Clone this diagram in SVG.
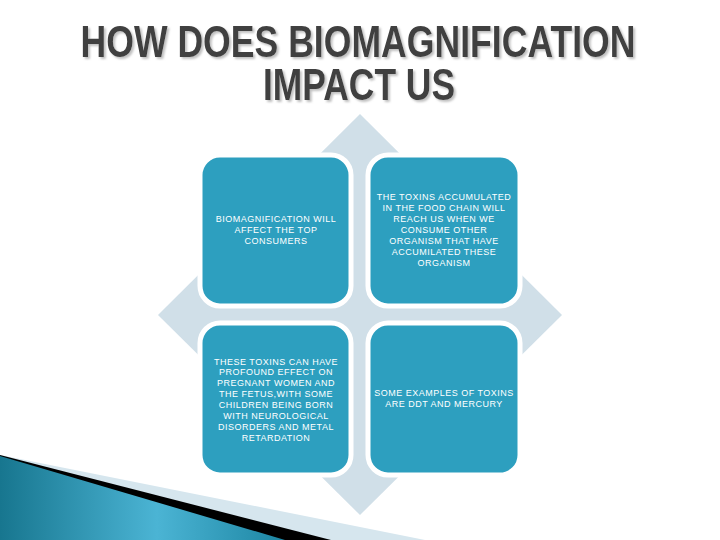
<svg xmlns="http://www.w3.org/2000/svg" width="720" height="540" viewBox="0 0 720 540">
  <defs>
    <style>
      .title { font-family: "Liberation Sans Narrow", "Liberation Sans", Arial, sans-serif; font-weight: bold; font-size: 44px; text-anchor: middle; fill: #3f3f3f; }
      .box { fill: #2d9fbf; stroke: #ffffff; stroke-width: 5; }
      .lbl { font-family: "Liberation Sans", Arial, sans-serif; font-size: 9px; fill: #ffffff; text-anchor: middle; letter-spacing: 0.5px; }
    </style>
    <filter id="shadow" filterUnits="userSpaceOnUse" x="0" y="0" width="720" height="130">
      <feDropShadow dx="2" dy="2" stdDeviation="0.8" flood-color="#b0b0b0" flood-opacity="0.8"/>
    </filter>
    <linearGradient id="swoosh" x1="0" y1="0" x2="1" y2="0">
      <stop offset="0" stop-color="#17768f"/>
      <stop offset="0.55" stop-color="#4bb4d4"/>
      <stop offset="1" stop-color="#1d86a3"/>
    </linearGradient>
  </defs>
  <rect width="720" height="540" fill="#ffffff"/>

  <g id="title" filter="url(#shadow)">
    <text class="title"><tspan x="358" y="57" textLength="555" lengthAdjust="spacingAndGlyphs">HOW DOES BIOMAGNIFICATION</tspan><tspan x="359" y="100" textLength="192" lengthAdjust="spacingAndGlyphs">IMPACT US</tspan></text>
  </g>

  <g id="connectors">
    <polygon points="360,114 562,315 360,515 158,315" fill="#d0dfe8"/>
  </g>

  <g id="node-top-left">
    <rect class="box" x="200" y="155" width="151" height="151" rx="20"/>
    <text class="lbl" x="276" y="222">BIOMAGNIFICATION WILL</text>
    <text class="lbl" x="276" y="233">AFFECT THE TOP</text>
    <text class="lbl" x="276" y="244">CONSUMERS</text>
  </g>

  <g id="node-top-right">
    <rect class="box" x="368" y="155" width="152" height="151" rx="20"/>
    <text class="lbl" x="444" y="199.5">THE TOXINS ACCUMULATED</text>
    <text class="lbl" x="444" y="210.6">IN THE FOOD CHAIN WILL</text>
    <text class="lbl" x="444" y="221.7">REACH US WHEN WE</text>
    <text class="lbl" x="444" y="232.8">CONSUME OTHER</text>
    <text class="lbl" x="444" y="243.9">ORGANISM THAT HAVE</text>
    <text class="lbl" x="444" y="255">ACCUMILATED THESE</text>
    <text class="lbl" x="444" y="266.1">ORGANISM</text>
  </g>

  <g id="node-bottom-left">
    <rect class="box" x="200" y="323" width="151" height="152" rx="20"/>
    <text class="lbl" x="276" y="364.5">THESE TOXINS CAN HAVE</text>
    <text class="lbl" x="276" y="375.4">PROFOUND EFFECT ON</text>
    <text class="lbl" x="276" y="386.3">PREGNANT WOMEN AND</text>
    <text class="lbl" x="276" y="397.2">THE FETUS,WITH SOME</text>
    <text class="lbl" x="276" y="408.1">CHILDREN BEING BORN</text>
    <text class="lbl" x="276" y="419">WITH NEUROLOGICAL</text>
    <text class="lbl" x="276" y="429.9">DISORDERS AND METAL</text>
    <text class="lbl" x="276" y="440.8">RETARDATION</text>
  </g>

  <g id="node-bottom-right">
    <rect class="box" x="368" y="323" width="152" height="152" rx="20"/>
    <text class="lbl" x="444" y="395.5">SOME EXAMPLES OF TOXINS</text>
    <text class="lbl" x="444" y="406.5">ARE DDT AND MERCURY</text>
  </g>

  <g id="swoosh-decor">
    <polygon points="0,455 425,540 0,540" fill="#d6e6ee"/>
    <polygon points="0,455 331,540 0,540" fill="#000000"/>
    <polygon points="0,456 285,540 0,540" fill="url(#swoosh)"/>
  </g>
</svg>
